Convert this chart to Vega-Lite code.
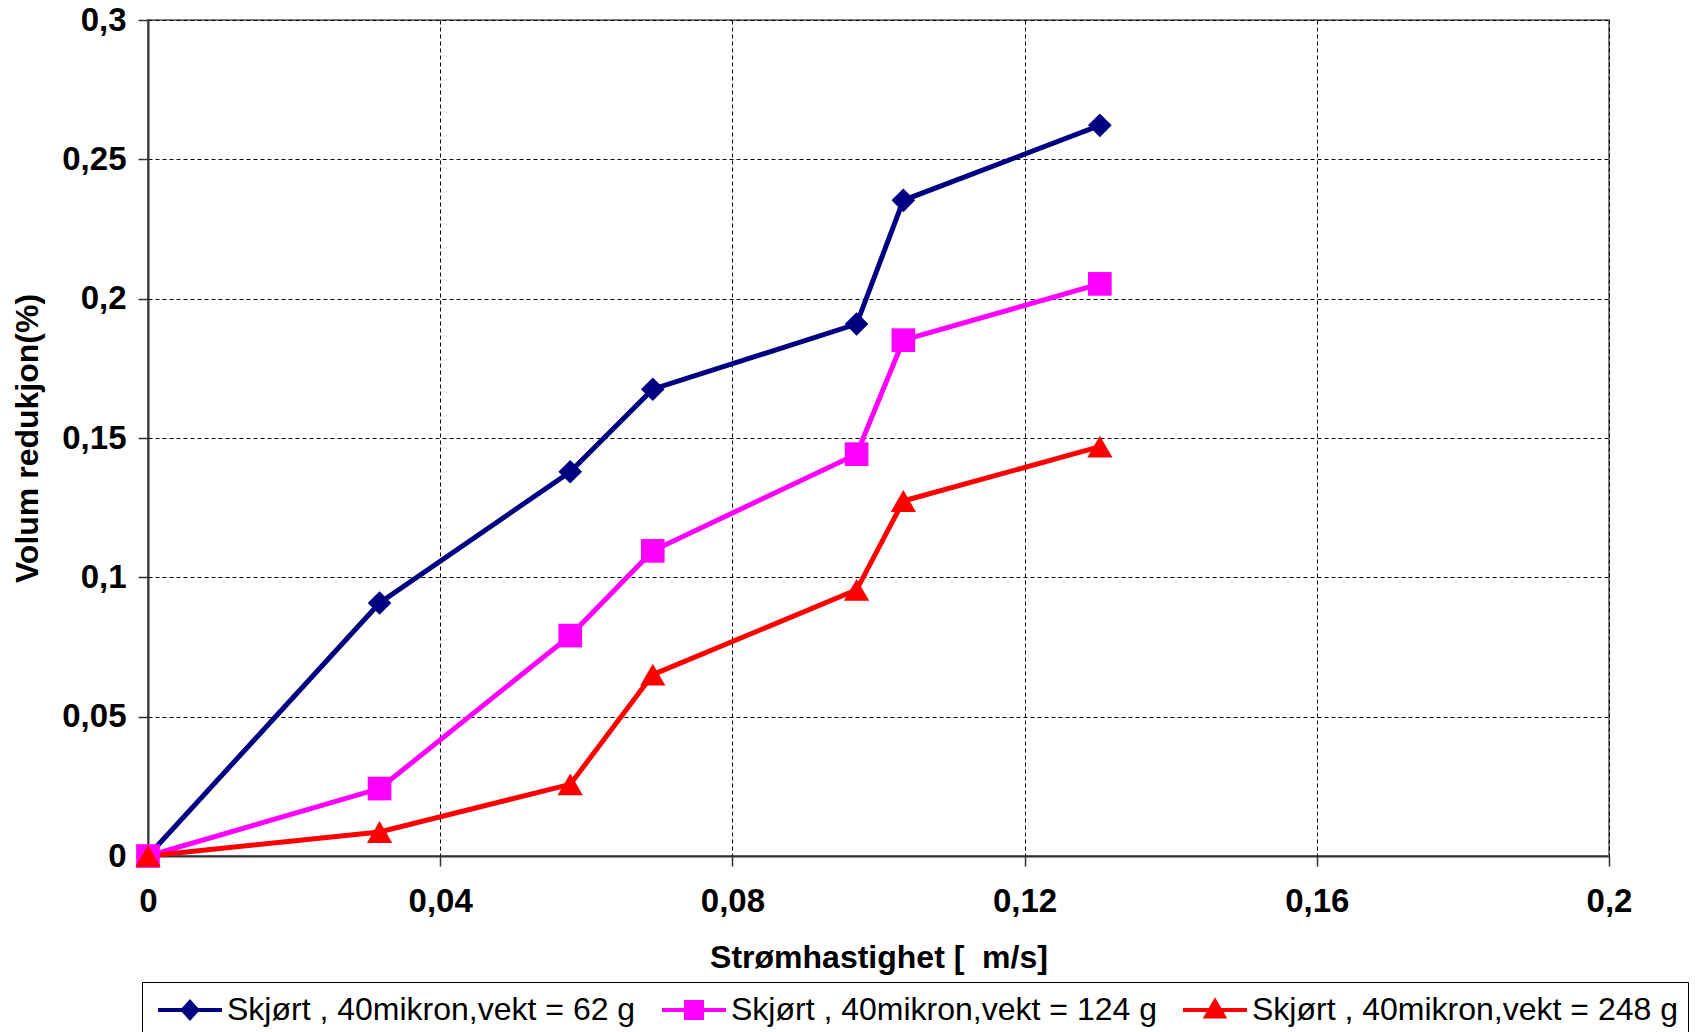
{
  "$schema": "https://vega.github.io/schema/vega-lite/v6.json",
  "autosize": {"type": "none"},
  "padding": {"left": 148, "top": 20, "right": 93, "bottom": 176},
  "width": 1461,
  "height": 836,
  "background": "white",
  "data": {"values": [
    {"x": 0, "y": 0, "series": "Skjørt , 40mikron,vekt = 62 g"},
    {"x": 0.0317, "y": 0.0908, "series": "Skjørt , 40mikron,vekt = 62 g"},
    {"x": 0.0578, "y": 0.1379, "series": "Skjørt , 40mikron,vekt = 62 g"},
    {"x": 0.0691, "y": 0.1675, "series": "Skjørt , 40mikron,vekt = 62 g"},
    {"x": 0.0970, "y": 0.1909, "series": "Skjørt , 40mikron,vekt = 62 g"},
    {"x": 0.1034, "y": 0.2353, "series": "Skjørt , 40mikron,vekt = 62 g"},
    {"x": 0.1303, "y": 0.2622, "series": "Skjørt , 40mikron,vekt = 62 g"},
    {"x": 0, "y": 0, "series": "Skjørt , 40mikron,vekt = 124 g"},
    {"x": 0.0317, "y": 0.0242, "series": "Skjørt , 40mikron,vekt = 124 g"},
    {"x": 0.0578, "y": 0.0791, "series": "Skjørt , 40mikron,vekt = 124 g"},
    {"x": 0.0691, "y": 0.1095, "series": "Skjørt , 40mikron,vekt = 124 g"},
    {"x": 0.0970, "y": 0.1442, "series": "Skjørt , 40mikron,vekt = 124 g"},
    {"x": 0.1034, "y": 0.1851, "series": "Skjørt , 40mikron,vekt = 124 g"},
    {"x": 0.1303, "y": 0.2053, "series": "Skjørt , 40mikron,vekt = 124 g"},
    {"x": 0, "y": 0, "series": "Skjørt , 40mikron,vekt = 248 g"},
    {"x": 0.0317, "y": 0.0086, "series": "Skjørt , 40mikron,vekt = 248 g"},
    {"x": 0.0578, "y": 0.0257, "series": "Skjørt , 40mikron,vekt = 248 g"},
    {"x": 0.0691, "y": 0.0651, "series": "Skjørt , 40mikron,vekt = 248 g"},
    {"x": 0.0970, "y": 0.0955, "series": "Skjørt , 40mikron,vekt = 248 g"},
    {"x": 0.1034, "y": 0.1274, "series": "Skjørt , 40mikron,vekt = 248 g"},
    {"x": 0.1303, "y": 0.1469, "series": "Skjørt , 40mikron,vekt = 248 g"}
  ]},
  "encoding": {
    "x": {
      "field": "x", "type": "quantitative",
      "scale": {"domain": [0, 0.2], "nice": false, "zero": false},
      "axis": {
        "values": [0, 0.04, 0.08, 0.12, 0.16, 0.2],
        "labelExpr": "replace(toString(datum.value), '.', ',')",
        "labelFlush": false,
        "title": "Strømhastighet [ \u00a0m/s]",
        "titleY": 101, "titleBaseline": "middle",
        "labelPadding": 19
      }
    },
    "y": {
      "field": "y", "type": "quantitative",
      "scale": {"domain": [0, 0.3], "nice": false, "zero": false},
      "axis": {
        "values": [0, 0.05, 0.1, 0.15, 0.2, 0.25, 0.3],
        "labelExpr": "replace(toString(datum.value), '.', ',')",
        "labelFlush": false,
        "title": "Volum redukjon(%)",
        "titleX": -121, "titleY": 418, "titleBaseline": "middle",
        "labelPadding": 12
      }
    }
  },
  "layer": [
    {
      "mark": {"type": "line", "strokeWidth": 5},
      "encoding": {
        "color": {
          "field": "series", "type": "nominal",
          "scale": {"domain": ["Skjørt , 40mikron,vekt = 124 g", "Skjørt , 40mikron,vekt = 248 g", "Skjørt , 40mikron,vekt = 62 g"], "range": ["#FF00FF", "#FF0000", "#000080"]},
          "legend": null
        }
      }
    },
    {
      "transform": [{"filter": "datum.series == 'Skjørt , 40mikron,vekt = 62 g'"}],
      "mark": {"type": "point", "filled": true, "opacity": 1, "shape": "diamond", "size": 560},
      "encoding": {"color": {"field": "series", "type": "nominal", "legend": null}}
    },
    {
      "transform": [{"filter": "datum.series == 'Skjørt , 40mikron,vekt = 124 g'"}],
      "mark": {"type": "point", "filled": true, "opacity": 1, "shape": "square", "size": 560},
      "encoding": {"color": {"field": "series", "type": "nominal", "legend": null}}
    },
    {
      "transform": [{"filter": "datum.series == 'Skjørt , 40mikron,vekt = 248 g'"}],
      "mark": {"type": "point", "filled": true, "opacity": 1, "shape": "triangle-up", "size": 640},
      "encoding": {"color": {"field": "series", "type": "nominal", "legend": null}}
    },
    {
      "mark": {"type": "point", "filled": true, "opacity": 1, "strokeWidth": 4, "size": 0},
      "encoding": {
        "fill": {
          "field": "series", "type": "nominal",
          "scale": {"domain": ["Skjørt , 40mikron,vekt = 62 g", "Skjørt , 40mikron,vekt = 124 g", "Skjørt , 40mikron,vekt = 248 g"], "range": ["#000080", "#FF00FF", "#FF0000"]},
          "legend": {
            "title": null, "orient": "none", "legendX": -6, "legendY": 962,
            "direction": "horizontal", "columns": 3,
            "strokeColor": "#000000", "fillColor": "#FFFFFF", "padding": 10,
            "labelFont": "Liberation Sans", "labelFontSize": 32, "labelColor": "#000000",
            "labelOffset": 39, "columnPadding": 18, "labelLimit": 1000,
            "symbolSize": 1024, "symbolStrokeWidth": 4, "symbolOpacity": 1
          }
        },
        "stroke": {
          "field": "series", "type": "nominal",
          "scale": {"domain": ["Skjørt , 40mikron,vekt = 62 g", "Skjørt , 40mikron,vekt = 124 g", "Skjørt , 40mikron,vekt = 248 g"], "range": ["#000080", "#FF00FF", "#FF0000"]}
        },
        "shape": {
          "field": "series", "type": "nominal",
          "scale": {"domain": ["Skjørt , 40mikron,vekt = 62 g", "Skjørt , 40mikron,vekt = 124 g", "Skjørt , 40mikron,vekt = 248 g"],
            "range": ["M-0.75,0H3.25M1.25,-0.5L1.7,0L1.25,0.5L0.8,0Z", "M-0.75,0H3.25M0.75,-0.5H1.75V0.5H0.75Z", "M-0.75,0H3.25M1.25,-0.55L1.8,0.4H0.7Z"]}
        }
      }
    }
  ],
  "config": {
    "view": {"stroke": "#808080", "strokeWidth": 2},
    "axis": {
      "labelFont": "Liberation Sans", "labelFontSize": 33, "labelFontWeight": "bold", "labelColor": "#000000",
      "titleFont": "Liberation Sans", "titleFontSize": 32, "titleFontWeight": "bold", "titleColor": "#000000",
      "domainColor": "#333333", "domainWidth": 2,
      "tickColor": "#333333", "tickSize": 10, "tickWidth": 1.5,
      "grid": true, "gridColor": "#000000", "gridDash": [4, 3], "gridWidth": 1, "gridOpacity": 1
    }
  }
}
